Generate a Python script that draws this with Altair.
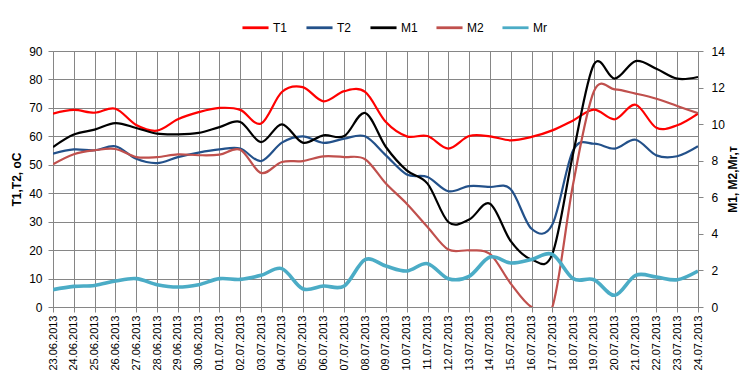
import altair as alt
import pandas as pd

dates = ["23.06.2013", "24.06.2013", "25.06.2013", "26.06.2013", "27.06.2013", "28.06.2013",
         "29.06.2013", "30.06.2013", "01.07.2013", "02.07.2013", "03.07.2013", "04.07.2013",
         "05.07.2013", "06.07.2013", "07.07.2013", "08.07.2013", "09.07.2013", "10.07.2013",
         "11.07.2013", "12.07.2013", "13.07.2013", "14.07.2013", "15.07.2013", "16.07.2013",
         "17.07.2013", "18.07.2013", "19.07.2013", "20.07.2013", "21.07.2013", "22.07.2013",
         "23.07.2013", "24.07.2013"]

t1 = [68, 69.3, 68.3, 69.7, 64, 62, 66, 68.5, 70, 69.3,
      64.5, 75.6, 77.3, 72.3, 75.9, 75.6, 65, 60, 60.1, 55.7, 60.1, 60,
      58.6, 59.8, 62.1, 65.6, 69.4, 66, 71.1, 63, 63.9, 68]
t2 = [53.9, 55.4, 55.1, 56.5, 52.1, 50.6, 52.7, 54.3, 55.4, 55.7,
      51.3, 57.8, 60, 57.7, 59.2, 60, 53.3, 46.6, 45.7, 40.7, 42.5, 42.2,
      41.4, 27.5, 29, 55.1, 57.4, 55.7, 58.8, 53.3, 53, 56.5]
m1 = [8.75, 9.43, 9.7, 10.06, 9.79, 9.48, 9.44, 9.52, 9.84, 10.12,
      9.02, 9.99, 8.99, 9.39, 9.35, 10.61, 8.75, 7.47, 6.75, 4.65, 4.78, 5.65,
      3.6, 2.6, 2.9, 8.4, 13.27, 12.49, 13.45, 13.03, 12.49, 12.58]
m2 = [7.8, 8.35, 8.57, 8.64, 8.2, 8.2, 8.35, 8.3, 8.33, 8.6,
      7.33, 7.93, 7.98, 8.24, 8.2, 8.08, 6.75, 5.65, 4.38, 3.14, 3.1, 2.9,
      1.28, 0, 0, 6.74, 11.8, 11.9, 11.67, 11.39, 10.99, 10.6]
mr = [0.95, 1.13, 1.18, 1.42, 1.55, 1.22, 1.09, 1.22, 1.55, 1.51,
      1.73, 2.1, 1.0, 1.15, 1.15, 2.59, 2.24, 1.97, 2.37, 1.55, 1.68, 2.73,
      2.41, 2.6, 2.88, 1.55, 1.49, 0.64, 1.73, 1.64, 1.49, 1.97]

series_names = ["T1", "T2", "M1", "M2", "Mr"]
series_colors = ["#FF0000", "#23518A", "#000000", "#C0504D", "#4BACC6"]

rows = []
for name, vals in zip(series_names, [t1, t2, m1, m2, mr]):
    for d, v in zip(dates, vals):
        rows.append({"date": d, "series": name, "value": v})
df = pd.DataFrame(rows)

grid = "#868686"

x_enc = alt.X("date:N", sort=dates, scale=alt.Scale(padding=0),
              axis=alt.Axis(title=None, labelAngle=270, grid=True, gridColor=grid,
                            domainColor=grid, tickColor=grid, tickSize=5,
                            labelFontSize=11, labelPadding=3, labelColor="black"))

color_enc = alt.Color("series:N", scale=alt.Scale(domain=series_names, range=series_colors),
                      legend=alt.Legend(title=None, orient="none", direction="horizontal",
                                        legendX=188, legendY=-38, symbolType="stroke",
                                        symbolSize=680, symbolStrokeWidth=2.8,
                                        labelFontSize=12, labelOffset=3, columnPadding=12,
                                        labelColor="black"))

left_y = alt.Y("value:Q", scale=alt.Scale(domain=[0, 90], nice=False),
               axis=alt.Axis(title="T1,T2, oC", values=list(range(0, 91, 10)), grid=True,
                             gridColor=grid, domainColor=grid, tickColor=grid, tickSize=5,
                             labelFontSize=12, labelPadding=6, titleFontWeight="bold",
                             titleFontSize=12, titlePadding=5, labelColor="black"))

right_y = alt.Y("value:Q", scale=alt.Scale(domain=[0, 14], nice=False),
                axis=alt.Axis(title="M1, M2,Mr,т", orient="right", values=list(range(0, 15, 2)),
                              grid=False, domainColor=grid, tickColor=grid, tickSize=5,
                              labelFontSize=12, labelPadding=8, titleFontWeight="bold",
                              titleFontSize=12, titleAngle=270, titlePadding=15,
                              labelColor="black"))

left = alt.Chart(df).transform_filter(
    alt.FieldOneOfPredicate(field="series", oneOf=["T1", "T2"])
).mark_line(interpolate="cardinal", clip=True, strokeWidth=2.2).encode(
    x=x_enc, y=left_y, color=color_enc,
)

right_m = alt.Chart(df).transform_filter(
    alt.FieldOneOfPredicate(field="series", oneOf=["M1", "M2"])
).mark_line(interpolate="cardinal", clip=True, strokeWidth=2.2).encode(
    x=x_enc, y=right_y, color=color_enc,
)

right_r = alt.Chart(df).transform_filter(
    alt.FieldOneOfPredicate(field="series", oneOf=["Mr"])
).mark_line(interpolate="cardinal", clip=True, strokeWidth=3.6).encode(
    x=x_enc, y=right_y, color=color_enc,
)

right = alt.layer(right_m, right_r)

chart = alt.layer(left, right).resolve_scale(y="independent").properties(
    width=645, height=256,
    autosize=alt.AutoSizeParams(type="none"),
    padding={"left": 45, "top": 43, "right": 45, "bottom": 74},
).configure_view(stroke=None).configure(
    font="Liberation Sans"
).configure_axis(labelFont="Liberation Sans", titleFont="Liberation Sans"
).configure_legend(labelFont="Liberation Sans")

chart.save("out.html", embed_options={"renderer": "svg", "actions": False})
